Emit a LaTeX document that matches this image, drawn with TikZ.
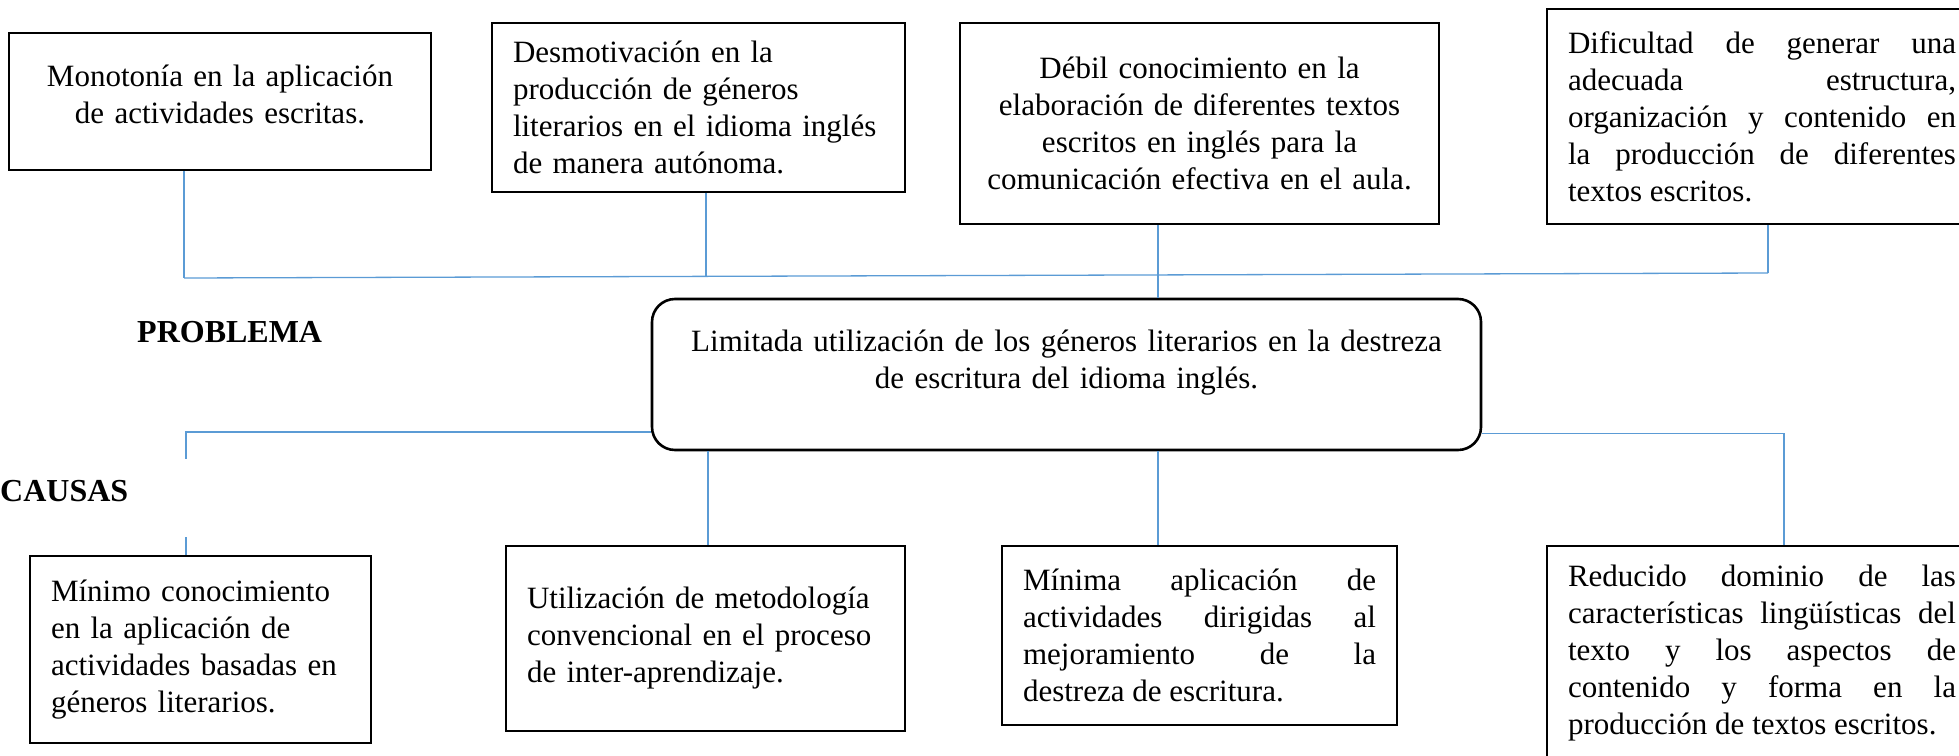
\documentclass[tikz,border=0pt]{standalone}
\usepackage{fontspec}
\setmainfont{Liberation Serif}
\usepackage{tikz}
\usetikzlibrary{positioning}
\definecolor{azulenlace}{RGB}{91,155,213}
\hyphenpenalty=10000
\exhyphenpenalty=10000

\begin{document}
\begin{tikzpicture}[x=1pt, y=-1pt,
    every node/.style={font=\fontsize{31}{37}\selectfont, inner sep=0pt},
    caja/.style={draw, line width=2.6pt, inner xsep=21pt},
    central/.style={caja, rounded corners=23pt, align=center},
    enlace/.style={draw=azulenlace, line width=1.3pt},
    titulo/.style={anchor=base west, font=\fontsize{32}{37}\selectfont\bfseries}
  ]
  \useasboundingbox (0,0) rectangle (1959,755);

  % efectos
  \node[caja, text width=380pt, minimum height=137pt, align=center] (e1) at (220,101.5)
    {Monotonía en la aplicación\\ de actividades escritas.\rule[-15pt]{0pt}{1pt}};
  \node[caja, text width=371pt, minimum height=169pt, align=left] (e2) at (698.5,107.5)
    {Desmotivación en la\\ producción de géneros\\ literarios en el idioma inglés\\ de manera autónoma.};
  \node[caja, text width=437pt, minimum height=201pt, align=center] (e3) at (1199.5,123.5)
    {Débil conocimiento en la\\ elaboración de diferentes textos\\ escritos en inglés para la\\ comunicación efectiva en el aula.};
  \node[caja, text width=388pt, minimum height=215pt, align=justify] (e4) at (1762,116.5)
    {\makebox[\hsize][s]{Dificultad de generar una}\\
     \makebox[\hsize][s]{adecuada estructura,}\\
     \makebox[\hsize][s]{organización y contenido en}\\
     \makebox[\hsize][s]{la producción de diferentes}\\
     textos escritos.};

  % problema
  \node[central, text width=787pt, minimum height=151pt] (prob) at (1066.5,374.5)
    {Limitada utilización de los géneros literarios en la destreza\\ de escritura del idioma inglés.\rule[-31pt]{0pt}{1pt}};
  \node[titulo] (tprob) at (137,342) {PROBLEMA};
  \node[titulo] (tcaus) at (0,501) {CAUSAS};

  % causas
  \node[caja, text width=299pt, minimum height=187pt, align=left] (c1) at (200.5,649.5)
    {Mínimo conocimiento\\ en la aplicación de\\ actividades basadas en\\ géneros literarios.};
  \node[caja, text width=357pt, minimum height=185pt, align=left] (c2) at (705.5,638.5)
    {Utilización de metodología\\ convencional en el proceso\\ de inter-aprendizaje.};
  \node[caja, text width=353pt, minimum height=179pt, align=justify] (c3) at (1199.5,635.5)
    {\makebox[\hsize][s]{Mínima aplicación de}\\
     \makebox[\hsize][s]{actividades dirigidas al}\\
     \makebox[\hsize][s]{mejoramiento de la}\\
     destreza de escritura.};
  \node[caja, text width=388pt, minimum height=214pt, align=justify] (c4) at (1762,653)
    {\makebox[\hsize][s]{Reducido dominio de las}\\
     \makebox[\hsize][s]{características lingüísticas del}\\
     \makebox[\hsize][s]{texto y los aspectos de}\\
     \makebox[\hsize][s]{contenido y forma en la}\\
     producción de textos escritos.};

  % enlaces de arriba
  \coordinate (b1) at (184,278);
  \coordinate (b2) at (706,276.4);
  \coordinate (b3) at (1158,274.9);
  \coordinate (b4) at (1768,273);
  \draw[enlace] (b1) -- (b4);
  \draw[enlace] (e1.south -| b1) -- (b1);
  \draw[enlace] (e2.south -| b2) -- (b2);
  \draw[enlace] (e3.south -| b3) -- (prob.north -| b3);
  \draw[enlace] (e4.south -| b4) -- (b4);

  % enlaces de abajo
  \coordinate (a1) at (186,432);
  \coordinate (a2) at (186,459);
  \coordinate (a3) at (186,537);
  \coordinate (a4) at (708,500);
  \coordinate (a5) at (1158,500);
  \coordinate (a6) at (1784,433.5);
  \draw[enlace] (prob.west |- a1) -- (a1) -- (a2);
  \draw[enlace] (a3) -- (c1.north -| a3);
  \draw[enlace] (prob.south -| a4) -- (c2.north -| a4);
  \draw[enlace] (prob.south -| a5) -- (c3.north -| a5);
  \draw[enlace] (prob.east |- a6) -- (a6) -- (c4.north -| a6);
\end{tikzpicture}
\end{document}
